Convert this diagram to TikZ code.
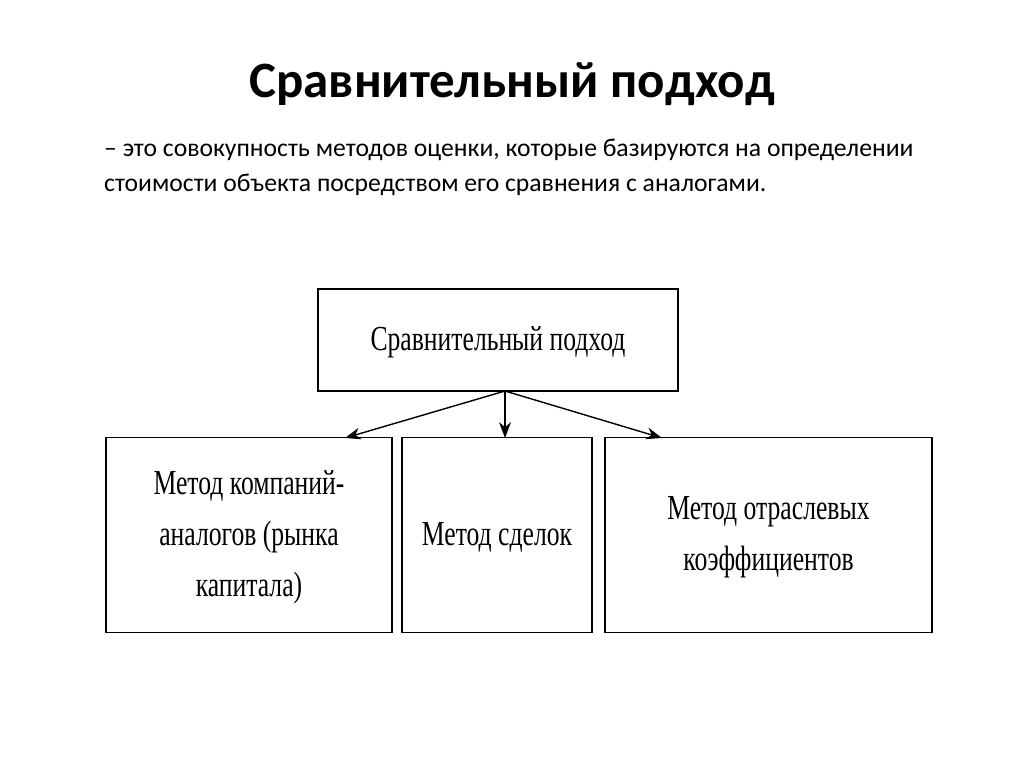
\documentclass[tikz,border=0pt]{standalone}
\usepackage{fontspec}
\setmainfont{Carlito}
\newfontfamily\boxfont{Liberation Serif}
\usetikzlibrary{positioning}
\usetikzlibrary{arrows.meta}
\newcommand{\narrowtext}[1]{\scalebox{0.73}[1]{\begin{tabular}{@{}c@{}}#1\end{tabular}}}
\tikzset{methodbox/.style={draw,thick,align=center,font=\boxfont\fontsize{20}{29}\selectfont}}

\begin{document}
\begin{tikzpicture}[x=0.02cm,y=-0.02cm]
  \useasboundingbox (0,0) rectangle (1024,767);

  \node [font=\bfseries\fontsize{29}{34}\selectfont] (title) at (512,84) {Сравнительный подход};
  \node [anchor=north west,align=left,font=\fontsize{14.6}{20}\selectfont] (def) at (98,133)
    {-- это совокупность методов оценки, которые базируются на определении\\
     стоимости объекта посредством его сравнения с аналогами.};

  % top box
  \node [methodbox,minimum width=7.2cm,minimum height=2.04cm] (approach) at (498,340) {\narrowtext{Сравнительный подход}};

  % three methods
  \node [methodbox,minimum width=5.72cm,minimum height=3.9cm] (peers) at (249,535)
    {\narrowtext{Метод компаний-\\аналогов (рынка\\капитала)}};
  \node [methodbox,minimum width=3.8cm,minimum height=3.9cm] (deals) at (497,535) {\narrowtext{Метод сделок}};
  \node [methodbox,minimum width=6.54cm,minimum height=3.9cm] (ratios) at (768.5,535)
    {\narrowtext{Метод отраслевых\\коэффициентов}};

  \coordinate (fork) at (505,391);
  \draw [thick,-{Stealth[length=9pt]}] (fork) -- (345,438);
  \draw [thick,-{Stealth[length=9pt]}] (fork) -- (505,438);
  \draw [thick,-{Stealth[length=9pt]}] (fork) -- (662,438);
\end{tikzpicture}
\end{document}
